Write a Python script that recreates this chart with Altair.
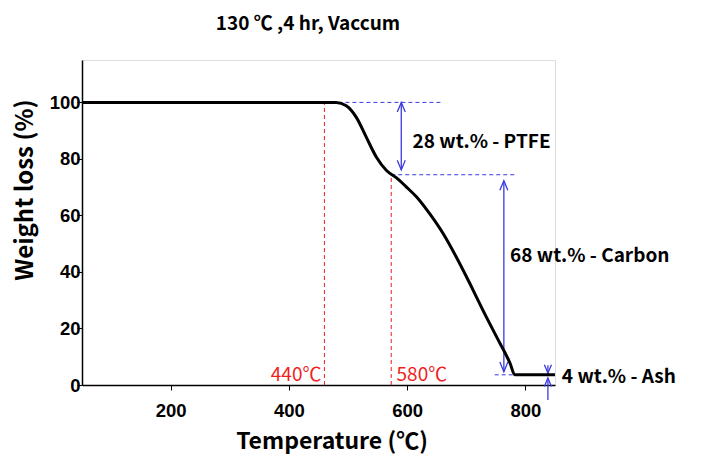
import altair as alt
import pandas as pd

# ---- data ----
temp = [50, 480, 497, 514, 531, 548, 565, 582, 598, 616, 638, 661, 683, 706, 728, 751, 774, 782, 850]
weight = [100, 100, 98.8, 94.7, 87.6, 80.6, 75.9, 73.3, 70.2, 66.5, 60.6, 53.5, 45.3, 35.9, 26.5, 17.1, 7.7, 3.6, 3.6]

x_ticks = [200, 400, 600, 800]
y_ticks = [0, 20, 40, 60, 80, 100]

onset_temps = [460, 573]          # red dashed verticals
onset_tops = [100, 74.4]
onset_labels = ["440℃", "580℃"]

level_y = [100, 74.4, 3.6]        # blue dashed horizontals
level_x1 = [460, 573, 748]
level_x2 = [660, 786, 782]

arrow_x = [590, 763.5]
arrow_top = [100, 72.3]
arrow_bot = [76.1, 4.7]
arrow_labels = ["28 wt.% - PTFE", "68 wt.% - Carbon"]
arrow_label_x = [609, 774]
arrow_label_y = [85.9, 45.6]

ash_x = 838
ash_label = "4 wt.% - Ash"

FONT = "Noto Sans CJK KR"
BLUE = "#3a3ae0"
RED = "#f01e1e"

xs = alt.Scale(domain=[50, 850], nice=False)
ys = alt.Scale(domain=[0, 115], nice=False)

curve = pd.DataFrame({"x": temp, "y": weight})
line = alt.Chart(curve).mark_line(color="black", strokeWidth=3, interpolate="monotone").encode(
    x=alt.X("x:Q", scale=xs, title=None,
            axis=alt.Axis(values=x_ticks, grid=False, tickSize=5, labelPadding=11,
                          labelFont="Liberation Sans", labelFontSize=18.5, labelFontWeight="bold",
                          labelColor="black", domainColor="black", domainWidth=1.5,
                          tickColor="black", labelFlush=False)),
    y=alt.Y("y:Q", scale=ys, title=None,
            axis=alt.Axis(values=y_ticks, grid=False, tickSize=5, labelPadding=-3,
                          labelFont="Liberation Sans", labelFontSize=18.5, labelFontWeight="bold",
                          labelColor="black", domainColor="black", domainWidth=1.5,
                          tickColor="black", labelFlush=False)),
)

onset = pd.DataFrame({"x": onset_temps, "y": [0, 0], "y2": onset_tops, "t": onset_labels,
                      "lx": [455, 582]})
red_rules = alt.Chart(onset).mark_rule(color=RED, strokeWidth=1, strokeDash=[4, 3]).encode(
    x=alt.X("x:Q", scale=xs, title=None), y=alt.Y("y:Q", scale=ys, title=None), y2="y2:Q")
red_text_l = alt.Chart(onset.iloc[[0]]).mark_text(color=RED, font=FONT, fontSize=19, align="right",
                                                  baseline="middle").encode(
    x=alt.X("lx:Q", scale=xs, title=None), y=alt.datum(3.5), text="t:N")
red_text_r = alt.Chart(onset.iloc[[1]]).mark_text(color=RED, font=FONT, fontSize=19, align="left",
                                                  baseline="middle").encode(
    x=alt.X("lx:Q", scale=xs, title=None), y=alt.datum(3.5), text="t:N")

levels = pd.DataFrame({"x": level_x1, "x2": level_x2, "y": level_y})
blue_dash = alt.Chart(levels).mark_rule(color=BLUE, strokeWidth=1, strokeDash=[4, 3]).encode(
    x=alt.X("x:Q", scale=xs, title=None), x2="x2:Q", y=alt.Y("y:Q", scale=ys, title=None))

arr = pd.DataFrame({"x": arrow_x, "top": arrow_top, "bot": arrow_bot,
                    "t": arrow_labels, "lx": arrow_label_x, "ly": arrow_label_y})
arrow_lines = alt.Chart(arr).mark_rule(color=BLUE, strokeWidth=1.3).encode(
    x=alt.X("x:Q", scale=xs, title=None), y=alt.Y("top:Q", scale=ys, title=None), y2="bot:Q")
UP = "M-0.5,1.2L0,0L0.5,1.2"
DOWN = "M-0.5,-1.2L0,0L0.5,-1.2"
heads_up = alt.Chart(arr).mark_point(shape=UP, filled=False, size=256, color=BLUE, strokeWidth=1.3,
                                     opacity=1).encode(
    x=alt.X("x:Q", scale=xs, title=None), y=alt.Y("top:Q", scale=ys, title=None))
heads_down = alt.Chart(arr).mark_point(shape=DOWN, filled=False, size=256, color=BLUE, strokeWidth=1.3,
                                       opacity=1).encode(
    x=alt.X("x:Q", scale=xs, title=None), y=alt.Y("bot:Q", scale=ys, title=None))
arrow_text = alt.Chart(arr).mark_text(font=FONT, fontSize=19, fontWeight="bold", align="left",
                                      baseline="middle", color="black").encode(
    x=alt.X("lx:Q", scale=xs, title=None), y=alt.Y("ly:Q", scale=ys, title=None), text="t:N")

ash = pd.DataFrame({"x": [ash_x], "a1": [7.0], "a2": [4.2], "b1": [-5.3], "b2": [2.5],
                    "t": [ash_label], "lx": [861.6], "ly": [2.8]})
ash_top = alt.Chart(ash).mark_rule(color=BLUE, strokeWidth=1.3).encode(
    x=alt.X("x:Q", scale=xs, title=None), y=alt.Y("a1:Q", scale=ys, title=None), y2="a2:Q")
ash_bot = alt.Chart(ash).mark_rule(color=BLUE, strokeWidth=1.3).encode(
    x=alt.X("x:Q", scale=xs, title=None), y=alt.Y("b1:Q", scale=ys, title=None), y2="b2:Q")
ash_dash = alt.Chart(ash).mark_rule(color=BLUE, strokeWidth=1, strokeDash=[3, 2]).encode(
    x=alt.X("x:Q", scale=xs, title=None), y=alt.Y("a2:Q", scale=ys, title=None), y2="b2:Q")
ash_h1 = alt.Chart(ash).mark_point(shape=DOWN, filled=False, size=200, color=BLUE, strokeWidth=1.3,
                                   opacity=1).encode(
    x=alt.X("x:Q", scale=xs, title=None), y=alt.Y("a2:Q", scale=ys, title=None))
ash_h2 = alt.Chart(ash).mark_point(shape=UP, filled=False, size=200, color=BLUE, strokeWidth=1.3,
                                   opacity=1).encode(
    x=alt.X("x:Q", scale=xs, title=None), y=alt.Y("b2:Q", scale=ys, title=None))
ash_text = alt.Chart(ash).mark_text(font=FONT, fontSize=19, fontWeight="bold", align="left",
                                    baseline="middle", color="black").encode(
    x=alt.X("lx:Q", scale=xs, title=None), y=alt.Y("ly:Q", scale=ys, title=None), text="t:N")

labels = pd.DataFrame({"t": ["130 ℃ ,4 hr, Vaccum"]})
title = alt.Chart(labels).mark_text(font=FONT, fontSize=19, fontWeight="bold", align="center",
                                    baseline="middle", color="black").encode(
    x=alt.value(226), y=alt.value(-36), text="t:N")
xt = pd.DataFrame({"t": ["Temperature (℃)"]})
xtitle = alt.Chart(xt).mark_text(font=FONT, fontSize=23, fontWeight="bold", align="center",
                                 baseline="middle", color="black").encode(
    x=alt.value(250), y=alt.value(382), text="t:N")
yt = pd.DataFrame({"t": ["Weight loss (%)"]})
ytitle = alt.Chart(yt).mark_text(font=FONT, fontSize=24, fontWeight="bold", align="center",
                                 baseline="middle", angle=270, color="black").encode(
    x=alt.value(-56), y=alt.value(130), text="t:N")

chart = alt.layer(
    red_rules, blue_dash, arrow_lines, heads_up, heads_down,
    ash_top, ash_bot, ash_dash, ash_h1, ash_h2,
    line, red_text_l, red_text_r, arrow_text, ash_text, title, xtitle, ytitle,
).properties(
    width=473, height=325,
    autosize=alt.AutoSizeParams(type="none"),
    padding={"left": 74, "top": 52, "right": 140, "bottom": 70},
).configure_view(stroke="black", strokeWidth=1.5).configure(background="white")

chart.save("out.html", embed_options={"renderer": "svg", "actions": False})
